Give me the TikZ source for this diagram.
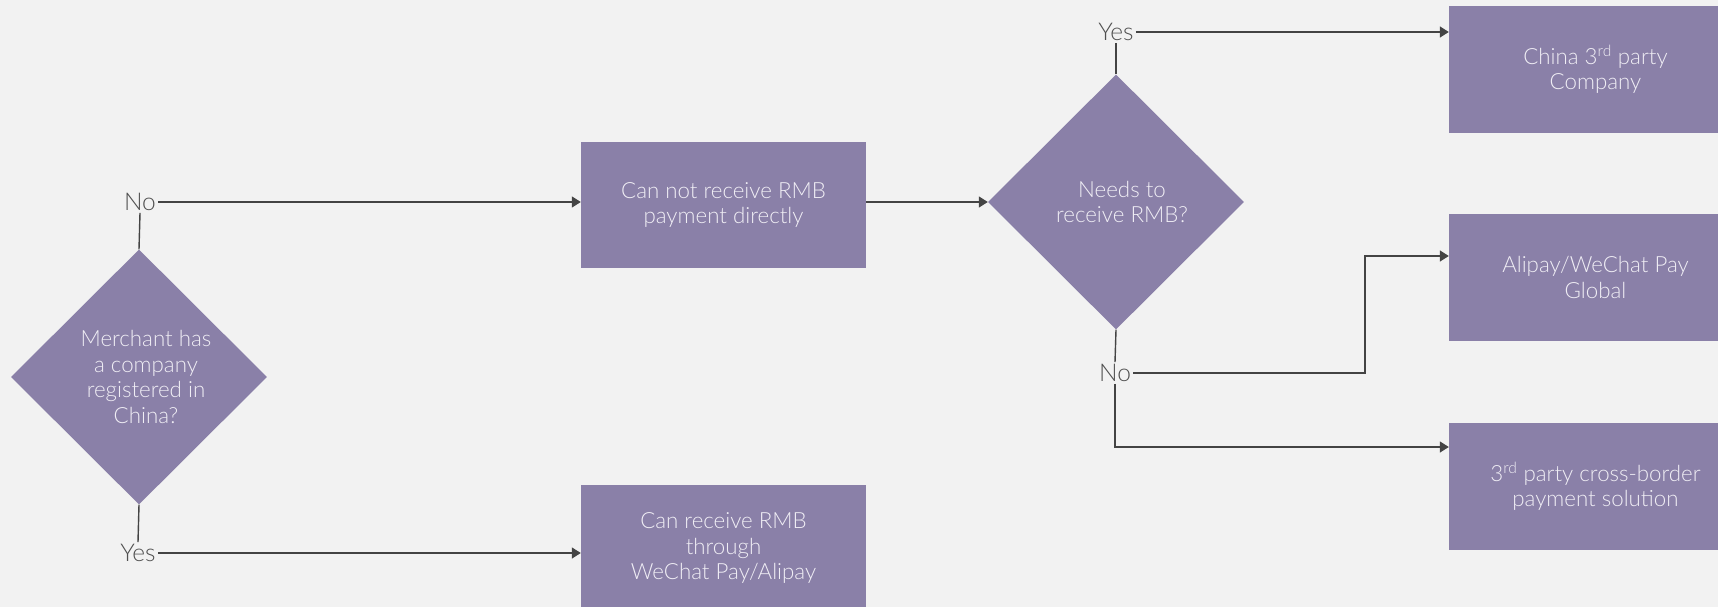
\documentclass[tikz,border=0pt]{standalone}
\usepackage{fontspec}
\setmainfont{Lato}[UprightFont={* Light}]
\usetikzlibrary{shapes.geometric,arrows.meta}
\definecolor{bgc}{HTML}{F2F2F2}
\definecolor{boxc}{HTML}{8A80A8}
\definecolor{boxtxt}{HTML}{F0EEF5}
\definecolor{linec}{HTML}{444444}
\definecolor{labc}{HTML}{505050}
\newcommand{\shl}{\hspace*{14pt}}
\newcommand{\shm}{\hspace*{12pt}}
\begin{document}
\begin{tikzpicture}[x=1pt,y=-1pt,
 every node/.style={font=\fontsize{22.3}{25.5}\selectfont},
 proc/.style={rectangle, fill=boxc, text=boxtxt, align=center, inner sep=0pt},
 dec/.style={diamond, fill=boxc, text=boxtxt, align=center, inner sep=0pt, minimum width=256pt, minimum height=255pt},
 lab/.style={text=labc, inner sep=2pt, font=\fontsize{24.5}{26}\selectfont},
 conn/.style={draw=linec, line width=1.4pt},
 arr/.style={conn, -{Triangle[length=9pt,width=11pt]}}
]
\fill[bgc] (0,0) rectangle (1718,607);
\useasboundingbox (0,0) rectangle (1718,607);

\node[dec] (d1) at (139,377) {\shl Merchant has\\\shl a company\\\shl registered in\\\shl China?};
\node[proc, minimum width=285pt, minimum height=126pt] (b1) at (723.5,205) {Can not receive RMB\\payment directly};
\node[proc, minimum width=285pt, minimum height=126pt] (b5) at (723.5,548) {Can receive RMB\\through\\WeChat Pay/Alipay};
\node[dec] (d2) at (1116,202) {\shm Needs to\\\shm receive RMB?};
\node[proc, minimum width=293pt, minimum height=127pt] (b2) at (1595.5,69.5) {China 3\textsuperscript{rd} party\\Company};
\node[proc, minimum width=293pt, minimum height=127pt] (b3) at (1595.5,277.5) {Alipay/WeChat Pay\\Global};
\node[proc, minimum width=293pt, minimum height=127pt] (b4) at (1595.5,486.5) {3\textsuperscript{rd} party cross-border\\payment solution};

\node[lab] (no1) at (140,202) {No};
\node[lab] (yes1) at (138,553) {Yes};
\node[lab] (yes2) at (1116,32) {Yes};
\node[lab] (no2) at (1115,373) {No};
\coordinate (e3) at (1365,0);

\draw[conn] (d1.north) -- (no1.south);
\draw[arr] (no1.east) -- (no1.east -| b1.west);
\draw[conn] (d1.south) -- (yes1.north);
\draw[arr] (yes1.east) -- (yes1.east -| b5.west);
\draw[arr] (d2.west -| b1.east) -- (d2.west);
\draw[conn] (d2.north) -- (yes2.south);
\draw[arr] (yes2.east) -- (yes2.east -| b2.west);
\draw[conn] (d2.south) -- (no2.north);
\draw[arr] (no2.east) -- (no2.east -| e3) |- ([yshift=21.5pt]b3.west);
\draw[arr] (no2.south) |- ([yshift=39.5pt]b4.west);
\end{tikzpicture}
\end{document}
